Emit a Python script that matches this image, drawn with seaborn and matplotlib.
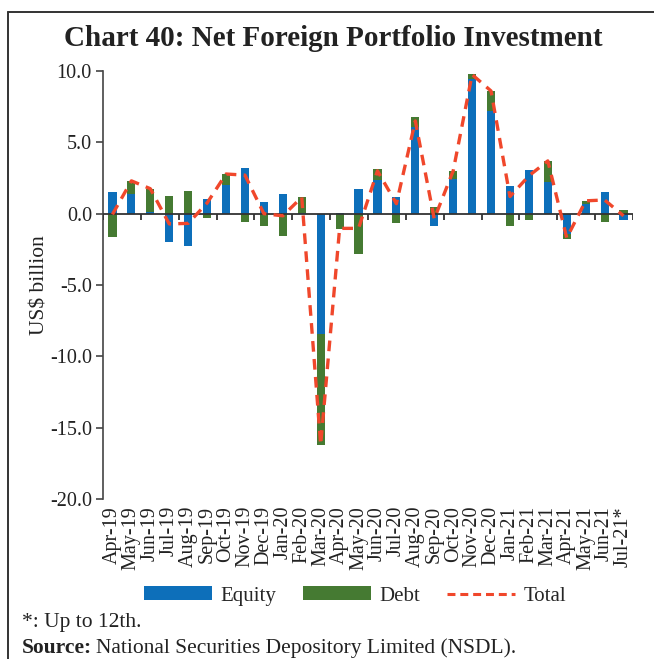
import numpy as np
import matplotlib
matplotlib.use("Agg")
import matplotlib.pyplot as plt
from matplotlib.lines import Line2D
from matplotlib.patches import Patch
from matplotlib.ticker import FormatStrFormatter
import seaborn as sns

# Monthly net FPI flows, US$ billion
months = ["Apr-19", "May-19", "Jun-19", "Jul-19", "Aug-19", "Sep-19", "Oct-19",
          "Nov-19", "Dec-19", "Jan-20", "Feb-20", "Mar-20", "Apr-20", "May-20",
          "Jun-20", "Jul-20", "Aug-20", "Sep-20", "Oct-20", "Nov-20", "Dec-20",
          "Jan-21", "Feb-21", "Mar-21", "Apr-21", "May-21", "Jun-21", "Jul-21*"]
equity = [1.55, 1.4, 0.1, -2.0, -2.3, 1.0, 2.0, 3.2, 0.85, 1.4, 0.05, -8.4,
          0.05, 1.75, 2.35, 1.2, 6.05, -0.85, 2.4, 9.45, 7.2, 1.95, 3.05, 2.25,
          -1.45, 0.7, 1.5, -0.45]
debt = [-1.65, 0.9, 1.6, 1.25, 1.6, -0.3, 0.8, -0.55, -0.85, -1.6, 1.1, -7.8,
        -1.05, -2.8, 0.8, -0.65, 0.7, 0.45, 0.6, 0.35, 1.4, -0.85, -0.45, 1.45,
        -0.35, 0.2, -0.6, 0.25]
total = [-0.05, 2.3, 1.75, -0.72, -0.68, 0.75, 2.78, 2.7, 0.0, -0.15, 1.15,
         -16.2, -1.03, -1.03, 3.0, 0.7, 6.5, -0.37, 3.0, 9.75, 8.6, 1.2, 2.65,
         3.7, -1.7, 0.9, 0.96, -0.15]
y_ticks = [-20, -15, -10, -5, 0, 5, 10]

BLUE = "#0d6fba"
GREEN = "#457a32"
RED = "#f0472b"
INK = "#222222"

sns.set_style("ticks")
plt.rcParams["font.family"] = ["Liberation Serif", "DejaVu Serif"]
plt.rcParams["axes.unicode_minus"] = False

fig = plt.figure(figsize=(6.54, 6.59), dpi=100)
ax = fig.add_axes([103 / 654, 1 - 499 / 659, 530 / 654, 428 / 659])

eq = np.array(equity)
de = np.array(debt)
# diverging stack: equity sits next to zero, debt extends beyond it on the same side
pos_ext = np.clip(eq, 0, None) + np.clip(de, 0, None)
neg_ext = np.clip(eq, None, 0) + np.clip(de, None, 0)
bar_kw = dict(width=0.43, saturation=1, linewidth=0, ax=ax, order=months)
sns.barplot(x=months, y=pos_ext, color=GREEN, **bar_kw)
sns.barplot(x=months, y=neg_ext, color=GREEN, **bar_kw)
sns.barplot(x=months, y=np.clip(eq, 0, None), color=BLUE, **bar_kw)
sns.barplot(x=months, y=np.clip(eq, None, 0), color=BLUE, **bar_kw)

sns.lineplot(x=np.arange(len(months)), y=total, color=RED, lw=2.4, ax=ax,
             sort=False, zorder=4)
ax.lines[-1].set_dashes([3.2, 2.2])

# zero line with group tick marks
ax.axhline(0, color="#333333", lw=1.3, zorder=3)
ax.vlines(np.arange(-0.5, len(months), 2), -0.45, 0, color="#333333", lw=1.3, zorder=3)

ax.set_xlim(-0.5, len(months) - 0.5)
ax.set_ylim(-20, 10)
ax.set_yticks(y_ticks)
ax.yaxis.set_major_formatter(FormatStrFormatter("%.1f"))
ax.set_xticks(np.arange(len(months)))
ax.set_xticklabels(months, rotation=90, fontsize=14.5, color=INK)
ax.tick_params(axis="x", length=0, pad=5)
ax.tick_params(axis="y", length=5, width=1.2, color="#444444", labelsize=14.5,
               labelcolor=INK, pad=3)
for s in ("top", "right", "bottom"):
    ax.spines[s].set_visible(False)
ax.spines["left"].set_color("#444444")
ax.spines["left"].set_linewidth(1.2)
ax.set_xlabel("")
ax.set_ylabel("US$ billion", fontsize=15.5, color=INK, labelpad=0)

fig.text(333 / 654, 1 - 38 / 659, "Chart 40: Net Foreign Portfolio Investment",
         ha="center", va="center", fontsize=21, fontweight="bold", color=INK)

handles = [Patch(facecolor=BLUE, edgecolor="none", label="Equity"),
           Patch(facecolor=GREEN, edgecolor="none", label="Debt"),
           Line2D([], [], color=RED, lw=2.2, dashes=[2.6, 1.6], label="Total")]
fig.legend(handles=handles, loc="center", bbox_to_anchor=(355 / 654, 1 - 596 / 659),
           ncol=3, frameon=False, fontsize=15, handlelength=3.3, handleheight=0.65,
           handletextpad=0.4, columnspacing=1.25)

fig.text(22 / 654, 1 - 623 / 659, "*: Up to 12th.", ha="left", va="center",
         fontsize=15.5, color=INK)
src = fig.text(22 / 654, 1 - 648 / 659, "Source:", ha="left", va="center",
               fontsize=15.5, fontweight="bold", color=INK)
fig.canvas.draw()
bb = src.get_window_extent()
fig.text(bb.x1 / fig.bbox.width + 4 / 654, 1 - 648 / 659,
         "National Securities Depository Limited (NSDL).", ha="left", va="center",
         fontsize=15.5, color=INK)

# frame edges along the top and left
fig.add_artist(Line2D([8 / 654, 1.0], [1 - 12 / 659, 1 - 12 / 659],
                      transform=fig.transFigure, color="#333333", lw=1.4))
fig.add_artist(Line2D([8 / 654, 8 / 654], [0.0, 1 - 12 / 659],
                      transform=fig.transFigure, color="#333333", lw=1.4))

fig.savefig("out.png", dpi=100)
